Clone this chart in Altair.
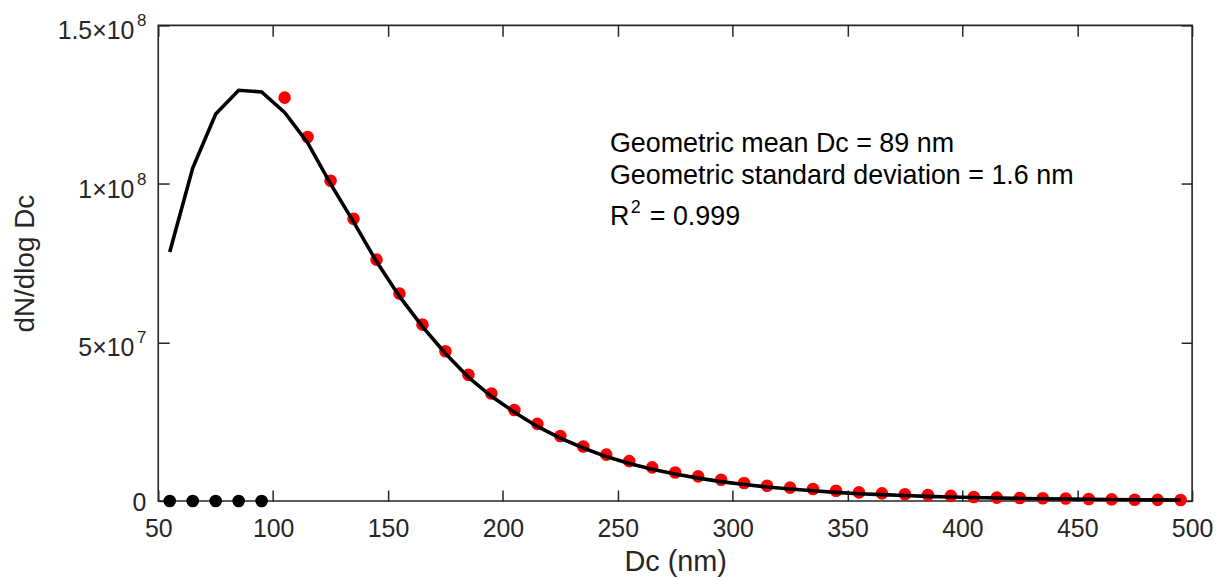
import altair as alt
import pandas as pd

# Excluded bins (black, plotted at zero)
dc_excluded = [55, 65, 75, 85, 95]
n_excluded = [0, 0, 0, 0, 0]

# Measured bins used in the fit (red)
dc_fit = [105, 115, 125, 135, 145, 155, 165, 175, 185, 195,
          205, 215, 225, 235, 245, 255, 265, 275, 285, 295,
          305, 315, 325, 335, 345, 355, 365, 375, 385, 395,
          405, 415, 425, 435, 445, 455, 465, 475, 485, 495]
n_fit = [1.272e8, 1.148e8, 1.010e8, 0.890e8, 0.761e8, 0.654e8, 0.556e8, 0.472e8, 0.398e8, 0.339e8,
         0.287e8, 0.243e8, 0.205e8, 0.172e8, 0.146e8, 0.1255e8, 0.106e8, 0.090e8, 0.0775e8, 0.067e8,
         0.0565e8, 0.048e8, 0.042e8, 0.0377e8, 0.032e8, 0.027e8, 0.024e8, 0.021e8, 0.019e8, 0.016e8,
         0.0125e8, 0.0105e8, 0.0094e8, 0.0085e8, 0.008e8, 0.006e8, 0.005e8, 0.004e8, 0.0035e8, 0.003e8]

# Log-normal fit curve (black line)
dc_line = [55, 65, 75, 85, 95] + dc_fit
n_line = [0.785e8, 1.05e8, 1.22e8, 1.295e8, 1.29e8,
          1.225e8, 1.13e8, 1.00e8, 0.88e8, 0.755e8, 0.645e8, 0.55e8, 0.465e8, 0.39e8, 0.33e8,
          0.28e8, 0.235e8, 0.198e8, 0.167e8, 0.14e8, 0.118e8, 0.10e8, 0.085e8, 0.072e8, 0.061e8,
          0.052e8, 0.044e8, 0.038e8, 0.032e8, 0.027e8, 0.023e8, 0.02e8, 0.017e8, 0.0145e8, 0.0125e8,
          0.011e8, 0.0095e8, 0.008e8, 0.007e8, 0.006e8, 0.0052e8, 0.0045e8, 0.004e8, 0.0035e8, 0.003e8]

x_ticks = [50, 100, 150, 200, 250, 300, 350, 400, 450, 500]
y_ticks = [0, 5e7, 1e8, 1.5e8]
y_tick_base = ["0", "5×10", "1×10", "1.5×10"]
y_tick_exp = ["", "7", "8", "8"]

ann_line1 = "Geometric mean Dc = 89 nm"
ann_line2 = "Geometric standard deviation = 1.6 nm"
ann_r = "R"
ann_r_exp = "2"
ann_r_rest = "= 0.999"

FONT = "Liberation Sans"
AX = "#262626"
TICK = 11

pts = pd.DataFrame({
    "dc": dc_excluded + dc_fit,
    "n": n_excluded + n_fit,
    "group": ["excluded"] * len(dc_excluded) + ["fit"] * len(dc_fit),
})
line_df = pd.DataFrame({"dc": dc_line, "n": n_line})
ylab = pd.DataFrame({"value": y_ticks, "base": y_tick_base, "exp": y_tick_exp,
                     "x0": [50] * len(y_ticks)})

xscale = alt.Scale(domain=[50, 500], nice=False, zero=False)
yscale = alt.Scale(domain=[0, 1.5e8], nice=False)

points = alt.Chart(pts).mark_circle(size=160, opacity=1).encode(
    x=alt.X("dc:Q", scale=xscale, title="Dc (nm)",
            axis=alt.Axis(orient="bottom", values=x_ticks, offset=-TICK, tickSize=TICK,
                          tickColor=AX, tickWidth=1.5, domain=False, grid=False,
                          labelFont=FONT, labelFontSize=25, labelColor=AX, labelPadding=36,
                          labelBaseline="alphabetic", labelFlush=False,
                          titleFont=FONT, titleFontSize=29, titleColor=AX, titleFontWeight="normal",
                          titleBaseline="alphabetic", titleY=572 - (502 - TICK))),
    y=alt.Y("n:Q", scale=yscale, title="dN/dlog Dc",
            axis=alt.Axis(orient="left", values=y_ticks, offset=-TICK, tickSize=TICK,
                          tickColor=AX, tickWidth=1.5, domain=False, grid=False, labels=False,
                          titleFont=FONT, titleFontSize=28, titleColor=AX, titleFontWeight="normal",
                          titleBaseline="alphabetic", titleX=34 - (159 + TICK))),
    color=alt.Color("group:N", scale=alt.Scale(domain=["fit", "excluded"], range=["#ff0000", "#000000"]),
                    legend=None),
)

line = alt.Chart(line_df).mark_line(color="#000000", strokeWidth=3.6).encode(
    x=alt.X("dc:Q", scale=xscale,
            axis=alt.Axis(orient="top", values=x_ticks, offset=-TICK, tickSize=TICK, tickColor=AX,
                          tickWidth=1.5, domain=False, grid=False, labels=False, title=None)),
    y=alt.Y("n:Q", scale=yscale,
            axis=alt.Axis(orient="right", values=y_ticks, offset=-TICK, tickSize=TICK, tickColor=AX,
                          tickWidth=1.5, domain=False, grid=False, labels=False, title=None)),
)

# y tick labels with real superscripts
ybase = alt.Chart(ylab).transform_filter("datum.exp != ''").mark_text(
    align="right", baseline="alphabetic", font=FONT, fontSize=25, color=AX, dx=-24, dy=14
).encode(x=alt.X("x0:Q", scale=xscale, axis=None), y=alt.Y("value:Q", scale=yscale, axis=None),
         text="base:N")
yexp = alt.Chart(ylab).transform_filter("datum.exp != ''").mark_text(
    align="right", baseline="alphabetic", font=FONT, fontSize=17, color=AX, dx=-12, dy=1
).encode(x=alt.X("x0:Q", scale=xscale, axis=None), y=alt.Y("value:Q", scale=yscale, axis=None),
         text="exp:N")
yzero = alt.Chart(ylab).transform_filter("datum.exp == ''").mark_text(
    align="right", baseline="alphabetic", font=FONT, fontSize=25, color=AX, dx=-12, dy=10
).encode(x=alt.X("x0:Q", scale=xscale, axis=None), y=alt.Y("value:Q", scale=yscale, axis=None),
         text="base:N")

ANN_X = 246.6
ann_base = alt.Chart(pd.DataFrame({"a": [0]}))


def ann(txt, y, size=27, dx=0, dy=0):
    return ann_base.mark_text(align="left", baseline="alphabetic", font=FONT, fontSize=size,
                              color="#000000", dx=dx, dy=dy).encode(
        x=alt.X(datum=ANN_X, scale=xscale, axis=None),
        y=alt.Y(datum=y, scale=yscale, axis=None),
        text=alt.value(txt),
    )


annotations = [
    ann(ann_line1, 1.0993e8),
    ann(ann_line2, 1.0001e8),
    ann(ann_r, 0.8714e8),
    ann(ann_r_exp, 0.8714e8, size=18, dx=21, dy=-12),
    ann(ann_r_rest, 0.8714e8, dx=40),
]

chart = alt.layer(points, line, ybase, yexp, yzero, *annotations).resolve_axis(
    x="independent", y="independent"
).properties(
    width=1039, height=478,
    autosize=alt.AutoSizeParams(type="none"),
    padding={"left": 151, "top": 16, "right": 22, "bottom": 76},
).configure_view(stroke=AX, strokeWidth=1.6)

chart.save("out.html", embed_options={"renderer": "svg", "actions": False})
